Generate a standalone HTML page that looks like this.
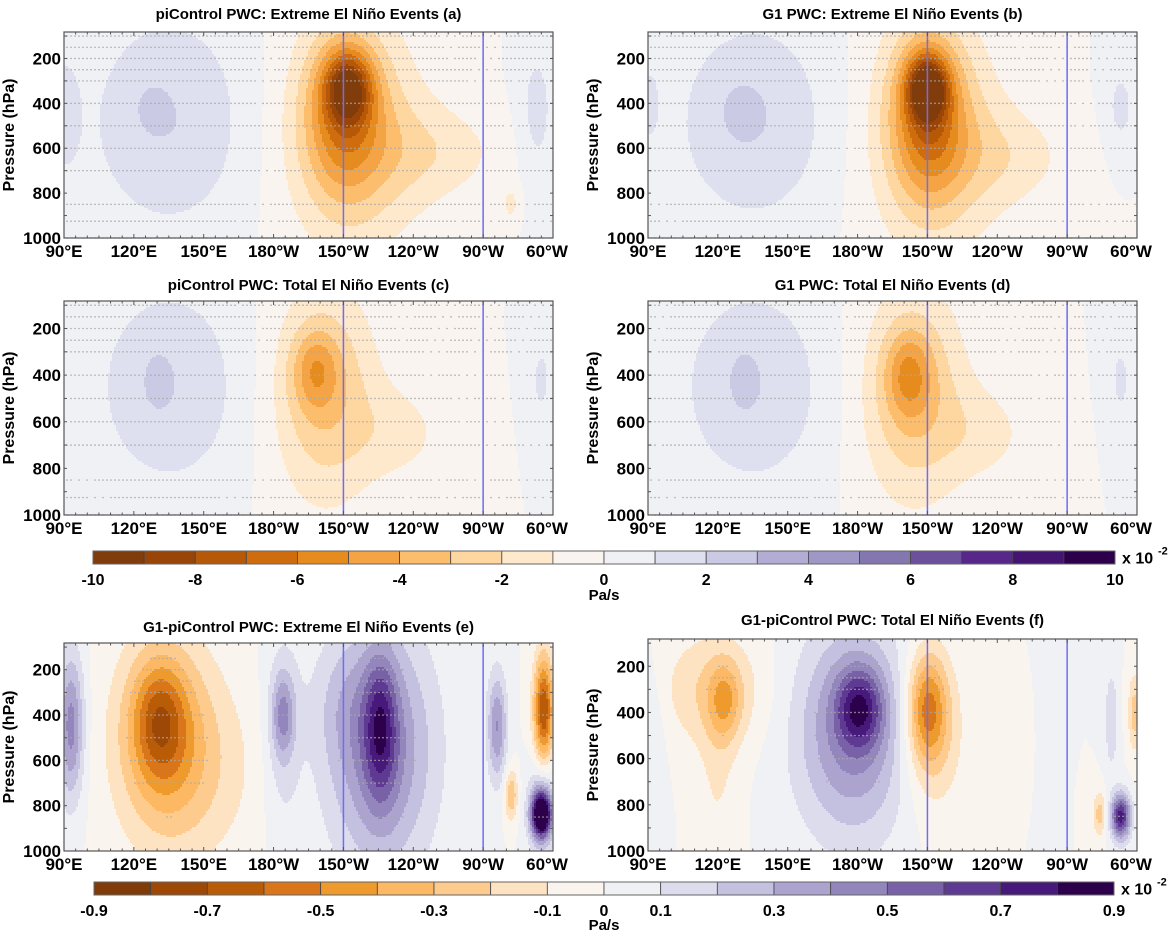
<!DOCTYPE html>
<html><head><meta charset="utf-8">
<style>
html,body{margin:0;padding:0;background:#fff;}
svg text{font-family:"Liberation Sans",Arial,sans-serif;font-weight:bold;fill:#000;}
</style></head>
<body>
<svg id="fig" width="1170" height="935" viewBox="0 0 1170 935" xmlns="http://www.w3.org/2000/svg"></svg>
<script>
// ---- data ----
// blobs: [lon(degE), pressure(hPa), amplitude, sigmaLon, sigmaP]
const blobsA = [[212,330,-5.5,7,110],[210,450,-4,12,250],[215,550,-2.5,22,380],[250,620,-1.3,22,150],
  [135,480,2.0,25,350],[128,420,0.8,4,60],[90,450,1.2,5,200],[293,450,1.4,6,250],[282,850,-1.2,3,60]];
const blobsB = [[210,330,-6.5,6,100],[210,450,-4.5,11,250],[213,550,-2.6,20,380],[245,640,-1.3,20,160],
  [135,480,2.0,24,330],[130,430,0.8,5,70],[293,420,1.3,5,150],[90,400,1.0,4,150]];
const blobsC = [[198,380,-2.5,7,120],[202,480,-3.0,16,330],[235,650,-1.2,15,150],
  [135,450,1.9,23,320],[130,420,0.7,4,80],[295,420,1.2,4,150]];
const blobsD = [[202,400,-2.8,7,130],[204,480,-3.0,16,330],[235,650,-1.2,15,150],
  [135,450,1.9,23,320],[131,420,0.7,4,80],[293,420,1.2,4,150]];
const blobsE = [[93,450,0.45,4,230],[131,420,-0.35,8,180],[133,500,-0.35,15,320],[150,650,-0.12,20,300],
  [184,400,0.33,3.5,130],[184,500,0.15,6,350],[226,450,0.4,5,220],[226,550,0.45,16,380],[210,350,0.1,10,200],
  [276,450,0.4,3,170],[296,380,-0.7,3,170],[282,750,-0.3,2,80],[295,840,0.95,3,70],[295,800,0.3,4,150]];
const blobsF = [[123,350,-0.25,5,120],[118,300,-0.2,16,180],[120,700,-0.1,6,250],
  [181,380,0.45,7,120],[178,480,0.45,17,320],[210,380,-0.45,6,170],[212,500,-0.2,10,250],
  [293,850,0.75,3,70],[284,840,-0.25,2,70],[299,400,-0.25,2,120],[289,430,0.2,2,150],[92,500,0.1,4,250]];
const xTickLabels = ["90°E","120°E","150°E","180°W","150°W","120°W","90°W","60°W"];
const xTickLons = [90,120,150,180,210,240,270,300];
const yTickValues = [200,400,600,800,1000];
const stippleLevels = [100,150,200,250,300,400,500,600,700,850,925,1000];
const cbar1Labels = ["-10","-8","-6","-4","-2","0","2","4","6","8","10"];
const cbar2Labels = ["-0.9","-0.7","-0.5","-0.3","-0.1","0","0.1","0.3","0.5","0.7","0.9"];
const cbar2LabelVals = [-0.9,-0.7,-0.5,-0.3,-0.1,0,0.1,0.3,0.5,0.7,0.9];
const colors1 = ['#803c0a','#9a4508','#b55908','#cf6d0e','#e68c1f','#f4a444','#fcbd6c','#fed6a0','#fee9cd','#f9f4ef',
  '#eff1f5','#dfe0ef','#cbcae4','#b3acd4','#9f97c6','#8476ae','#6b509b','#572889','#431571','#2d004b'];
const colors2 = ['#7f3b08','#9d4807','#b95c08','#d9761a','#ef9a2c','#fdb863','#fdcb8e','#fee3c3','#faf4ee',
  '#eff1f5','#dcdcec','#c4c0e0','#aca3cf','#9286bc','#7861a7','#5e3a92','#46197a','#2d004b'];

const NS="http://www.w3.org/2000/svg";
const svg=document.getElementById('fig');
const P_TOP=82, LON0=90, LON1=300;
function mk(tag,attrs,parent){const e=document.createElementNS(NS,tag);for(const k in attrs)e.setAttribute(k,attrs[k]);(parent||svg).appendChild(e);return e;}
function field(blobs,lon,p){let v=0;for(const b of blobs){const dx=(lon-b[0])/b[3],dp=(p-b[1])/b[4];v+=b[2]*Math.exp(-0.5*(dx*dx+dp*dp));}return v;}

const panels=[
 {id:'a',title:'piControl PWC: Extreme El Niño Events (a)',x0:64,x1:553,y0:32,y1:238,ty:14,blobs:blobsA,scale:1},
 {id:'b',title:'G1 PWC: Extreme El Niño Events (b)',x0:648,x1:1137,y0:32,y1:238,ty:14,blobs:blobsB,scale:1},
 {id:'c',title:'piControl PWC: Total El Niño Events (c)',x0:64,x1:553,y0:301,y1:515,ty:285,blobs:blobsC,scale:1},
 {id:'d',title:'G1 PWC: Total El Niño Events (d)',x0:648,x1:1137,y0:301,y1:515,ty:285,blobs:blobsD,scale:1},
 {id:'e',title:'G1-piControl PWC: Extreme El Niño Events (e)',x0:64,x1:553,y0:643,y1:851,ty:627,blobs:blobsE,scale:2},
 {id:'f',title:'G1-piControl PWC: Total El Niño Events (f)',x0:648,x1:1137,y0:639,y1:851,ty:620,blobs:blobsF,scale:2}
];

function levelIdx(v,scale){
  if(scale===1){return Math.max(0,Math.min(19,Math.floor(v)+10));}
  return Math.max(0,Math.min(17,Math.floor(v/0.1)+9));
}

for(const P of panels){
  const g=mk('g',{});
  
  
  const W=P.x1-P.x0,H=P.y1-P.y0;
  const xOf=lon=>P.x0+(lon-LON0)/(LON1-LON0)*W;
  const yOf=p=>P.y0+(p-P_TOP)/(1000-P_TOP)*H;
  const lonOf=x=>LON0+(x-P.x0)/W*(LON1-LON0);
  const pOf=y=>P_TOP+(y-P.y0)/H*(1000-P_TOP);
  const cols=P.scale===1?colors1:colors2;
  const fg=mk('g',{},g);
  
  
  const cs=2;
  for(let y=P.y0;y<P.y1;y+=cs){
    const p=pOf(y+cs/2);let runStart=P.x0,runIdx=null;
    const hh=Math.min(cs,P.y1-y)+0.5;
    for(let x=P.x0;x<P.x1;x+=cs){
      const idx=levelIdx(field(P.blobs,lonOf(x+cs/2),p),P.scale);
      if(runIdx===null){runIdx=idx;runStart=x;continue;}
      if(idx!==runIdx){
        const r=mk('rect',{x:runStart,y:y,width:x-runStart+0.5,height:hh,fill:cols[runIdx]},fg);
        
        
        runIdx=idx;runStart=x;
      }
    }
    const r=mk('rect',{x:runStart,y:y,width:P.x1-runStart,height:hh,fill:cols[runIdx]},fg);
    
    
  }
  // stippling
  const sg=mk('g',{fill:'#a9a9a9'},g);
  
  
  const thr=P.scale===1?0.35:0.28;
  for(const lev of stippleLevels){
    const y=yOf(lev);
    for(let x=P.x0+3;x<P.x1-1;x+=4){
      const v=Math.abs(field(P.blobs,lonOf(x),lev));
      const ok=P.scale===1?(v>thr||((x*7+lev)%11)>2):(v>thr);
      if(ok){mk('circle',{cx:x,cy:y,r:0.8},sg);}
    }
  }
  // blue reference lines
  for(const lon of [210,270]){
    const l=mk('line',{x1:xOf(lon),x2:xOf(lon),y1:P.y0,y2:P.y1,stroke:'#6f6cf5','stroke-width':1.5},g);
    
    
  }
  // frame
  const fr=mk('rect',{x:P.x0,y:P.y0,width:W,height:H,fill:'none',stroke:'#555','stroke-width':1.2},g);
  
  
  // minor ticks
  for(let lon=90;lon<=300;lon+=5){
    const x=xOf(lon),len=lon%30===0?4:2.5;
    mk('line',{x1:x,x2:x,y1:P.y0,y2:P.y0+len,stroke:'#555','stroke-width':1},g);
    mk('line',{x1:x,x2:x,y1:P.y1,y2:P.y1-len,stroke:'#555','stroke-width':1},g);
  }
  for(let p=100;p<=1000;p+=100){
    const y=yOf(p);
    mk('line',{x1:P.x0,x2:P.x0+3,y1:y,y2:y,stroke:'#555','stroke-width':1},g);
    mk('line',{x1:P.x1,x2:P.x1-3,y1:y,y2:y,stroke:'#555','stroke-width':1},g);
  }
  // title
  const t=mk('text',{x:(P.x0+P.x1)/2,y:P.ty+5,'text-anchor':'middle','font-size':15},g);
  t.textContent=P.title;
  
  
  // y ticks
  for(const v of yTickValues){
    const tt=mk('text',{x:P.x0-3,y:yOf(v)+6,'text-anchor':'end','font-size':17},g);
    tt.textContent=String(v);
    
    
  }
  const yt=mk('text',{x:0,y:0,'text-anchor':'middle','font-size':16,transform:`translate(${P.x0-50},${(P.y0+P.y1)/2}) rotate(-90)`},g);
  yt.textContent='Pressure (hPa)';
  
  
  // x ticks
  xTickLabels.forEach((lab,i)=>{
    let x=xOf(xTickLons[i]);
    if(i===xTickLabels.length-1)x-=6;
    const tx=mk('text',{x:x,y:P.y1+19,'text-anchor':'middle','font-size':17},g);
    tx.textContent=lab;
    
    
  });
}

function colorbar(x0,x1,y0,y1,cols,labels,labelPos,ly,unitY,name){
  const g=mk('g',{});
  
  
  const n=cols.length,w=(x1-x0)/n;
  cols.forEach((c,i)=>{
    const r=mk('rect',{x:x0+i*w,y:y0,width:w,height:y1-y0,fill:c,stroke:'#444','stroke-width':0.8},g);
    
    
  });
  mk('rect',{x:x0,y:y0,width:x1-x0,height:y1-y0,fill:'none',stroke:'#666','stroke-width':1},g);
  labels.forEach((l,i)=>{
    const t=mk('text',{x:labelPos(i),y:ly,'text-anchor':'middle','font-size':16},g);
    t.textContent=l;
    
    
  });
  const u=mk('text',{x:(x0+x1)/2,y:unitY,'text-anchor':'middle','font-size':15},g);
  u.textContent='Pa/s';
  
  
  const s=mk('text',{x:x1+7,y:(y0+y1)/2+6,'font-size':16},g);
  s.textContent='x 10';
  
  
  const s2=mk('text',{x:x1+43,y:(y0+y1)/2-3,'font-size':11},g);
  s2.textContent='-2';
  
  
}
colorbar(93,1115,551,564,colors1,cbar1Labels,i=>93+i*(1022/10),585,600,'colorbar-top');
colorbar(94,1114,882,895,colors2,cbar2Labels,i=>94+(cbar2LabelVals[i]+0.9)/1.8*1020,916,930,'colorbar-bottom');
</script>
</body></html>
